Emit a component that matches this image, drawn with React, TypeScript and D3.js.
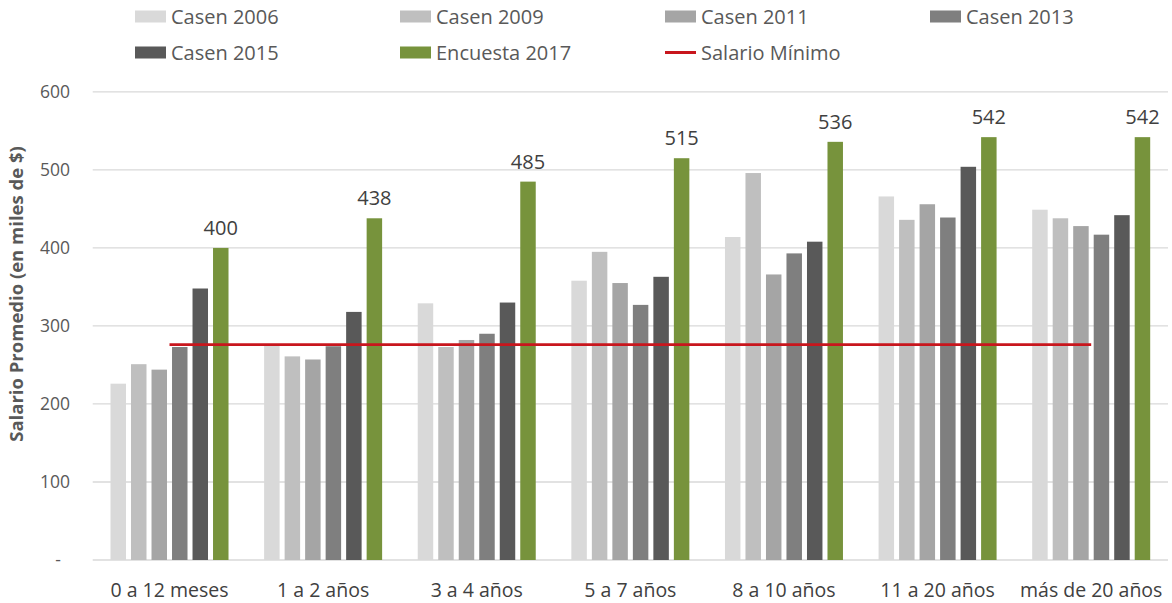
import React from "react";
import * as d3 from "d3";

// Categories: years of experience
const categories = [
  "0 a 12 meses",
  "1 a 2 años",
  "3 a 4 años",
  "5 a 7 años",
  "8 a 10 años",
  "11 a 20 años",
  "más de 20 años",
];

// Average salary (thousands of $) per survey
const casen2006 = [226, 275, 329, 358, 414, 466, 449];
const casen2009 = [251, 261, 273, 395, 496, 436, 438];
const casen2011 = [244, 257, 282, 355, 366, 456, 428];
const casen2013 = [273, 274, 290, 327, 393, 439, 417];
const casen2015 = [348, 318, 330, 363, 408, 504, 442];
const encuesta2017 = [400, 438, 485, 515, 536, 542, 542];

// Minimum wage (thousands of $)
const salarioMinimo = [276, 276, 276, 276, 276, 276, 276];

const seriesNames = [
  "Casen 2006",
  "Casen 2009",
  "Casen 2011",
  "Casen 2013",
  "Casen 2015",
  "Encuesta 2017",
];
const seriesValues = [casen2006, casen2009, casen2011, casen2013, casen2015, encuesta2017];
const seriesColors = ["#d9d9d9", "#bfbfbf", "#a5a5a5", "#7f7f7f", "#595959", "#77933c"];
const lineColor = "#c8161d";

const yTicks = [0, 100, 200, 300, 400, 500, 600];

const FONT = "'Open Sans', 'Noto Sans', sans-serif";

export default function App() {
  const width = 1172;
  const height = 603;
  const plotLeft = 92.7;
  const plotRight = 1168;
  const plotTop = 91.9;
  const plotBottom = 560;

  const x0 = d3.scaleBand<string>().domain(categories).range([plotLeft, plotRight]).padding(0);
  const groupWidth = 118;
  const x1 = d3
    .scaleBand<number>()
    .domain(d3.range(seriesNames.length))
    .range([0, groupWidth])
    .paddingInner(0.245)
    .paddingOuter(0);
  const groupOffset = (x0.bandwidth() - groupWidth) / 2;

  const y = d3.scaleLinear().domain([0, 600]).range([plotBottom, plotTop]);

  const line = d3
    .line<number>()
    .x((_, i) => (x0(categories[i]) as number) + x0.bandwidth() / 2)
    .y((d) => y(d));

  const legendRows = [
    [
      { name: "Casen 2006", type: "bar", color: seriesColors[0] },
      { name: "Casen 2009", type: "bar", color: seriesColors[1] },
      { name: "Casen 2011", type: "bar", color: seriesColors[2] },
      { name: "Casen 2013", type: "bar", color: seriesColors[3] },
    ],
    [
      { name: "Casen 2015", type: "bar", color: seriesColors[4] },
      { name: "Encuesta 2017", type: "bar", color: seriesColors[5] },
      { name: "Salario Mínimo", type: "line", color: lineColor },
    ],
  ];
  const legendX = [135, 400, 665, 930];
  const legendY = [16.5, 52.5];

  return (
    <svg width={width} height={height} style={{ display: "block", position: "absolute", left: 0, top: 0, background: "#fff" }}>
      {/* gridlines */}
      {yTicks.map((t) => (
        <line key={t} x1={plotLeft} x2={plotRight} y1={y(t)} y2={y(t)} stroke="#d9d9d9" strokeWidth={1.3} />
      ))}
      {/* y tick labels */}
      {yTicks.map((t) => (
        <text
          key={"yl" + t}
          x={t === 0 ? 61 : 70}
          y={y(t)}
          dy="0.35em"
          textAnchor="end"
          fontFamily={FONT}
          fontSize={17.5}
          fill="#595959"
        >
          {t === 0 ? "-" : t}
        </text>
      ))}
      {/* y axis title */}
      <text
        transform="translate(23, 294) rotate(-90)"
        textAnchor="middle"
        fontFamily={FONT}
        fontSize={18.5}
        fontWeight={700}
        fill="#595959"
      >
        Salario Promedio (en miles de $)
      </text>

      {/* bars */}
      {categories.map((c, ci) => (
        <g key={c} transform={`translate(${(x0(c) as number) + groupOffset},0)`}>
          {seriesValues.map((vals, si) => (
            <rect
              key={si}
              x={x1(si)}
              y={y(vals[ci])}
              width={x1.bandwidth()}
              height={y(0) - y(vals[ci])}
              fill={seriesColors[si]}
            />
          ))}
        </g>
      ))}

      {/* data labels on Encuesta 2017 */}
      {categories.map((c, ci) => (
        <text
          key={"dl" + c}
          x={(x0(c) as number) + groupOffset + (x1(5) as number) + x1.bandwidth() / 2}
          y={y(encuesta2017[ci]) - 13}
          textAnchor="middle"
          fontFamily={FONT}
          fontSize={20}
          fill="#404040"
        >
          {encuesta2017[ci]}
        </text>
      ))}

      {/* minimum wage line */}
      <path d={line(salarioMinimo) as string} fill="none" stroke={lineColor} strokeWidth={2.6} />

      {/* x labels */}
      {categories.map((c) => (
        <text
          key={"xl" + c}
          x={(x0(c) as number) + x0.bandwidth() / 2}
          y={597}
          textAnchor="middle"
          fontFamily={FONT}
          fontSize={19.5}
          fill="#404040"
        >
          {c}
        </text>
      ))}

      {/* legend */}
      {legendRows.map((row, ri) =>
        row.map((item, ii) => (
          <g key={item.name} transform={`translate(${legendX[ii]}, ${legendY[ri]})`}>
            {item.type === "bar" ? (
              <rect x={0} y={-6} width={31} height={12} fill={item.color} />
            ) : (
              <line x1={0} x2={31} y1={0} y2={0} stroke={item.color} strokeWidth={3} />
            )}
            <text x={36} y={0} dy="0.35em" fontFamily={FONT} fontSize={20} fill="#595959">
              {item.name}
            </text>
          </g>
        ))
      )}
    </svg>
  );
}
